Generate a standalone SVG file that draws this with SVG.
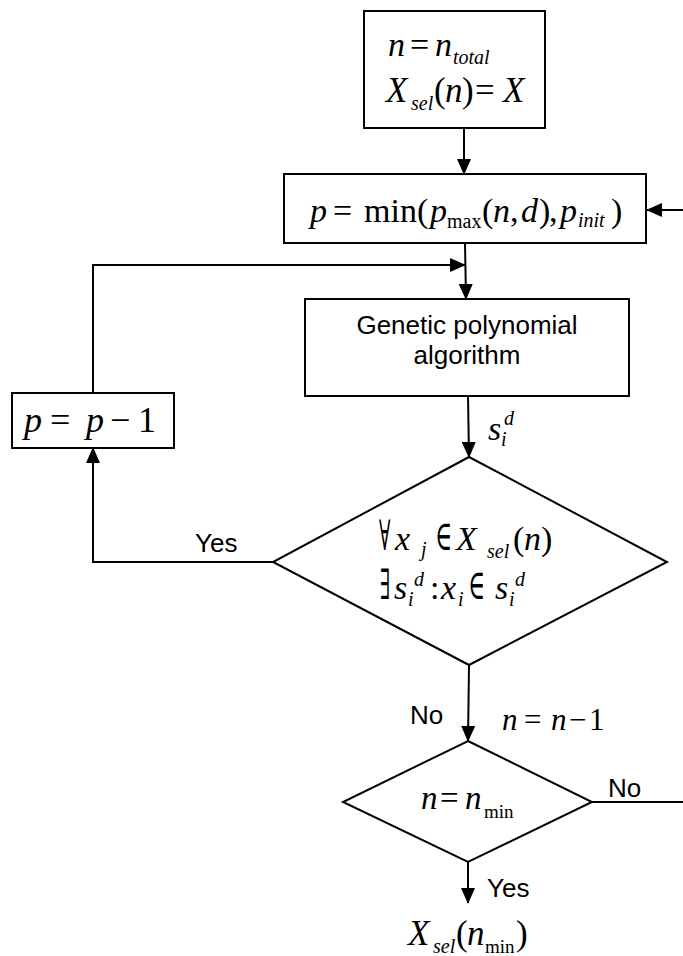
<svg xmlns="http://www.w3.org/2000/svg" width="683" height="956" viewBox="0 0 683 956">
<style>
.b{fill:#fff;stroke:#000;stroke-width:2}
.c{fill:none;stroke:#000;stroke-width:2}
.m{font-family:"Liberation Serif","Times New Roman",serif;font-size:34px;fill:#000}
.y{font-family:"DejaVu Serif","Liberation Serif",serif;font-size:42px;fill:#000}
.i{font-style:italic}
.s{font-size:20px}
.a{font-family:"Liberation Sans",Arial,sans-serif;font-size:26px;fill:#000}
</style>
<defs>
<marker id="ah" markerWidth="16" markerHeight="14" refX="15" refY="7" orient="auto" markerUnits="userSpaceOnUse">
<path d="M0,0 L16,7 L0,14 z" fill="#000"/>
</marker>
</defs>
<rect width="683" height="956" fill="#fff"/>

<g id="connectors">
<path class="c" d="M464,128 L464,174" marker-end="url(#ah)"/>
<path class="c" d="M465,243 L466,299" marker-end="url(#ah)"/>
<path class="c" d="M93,393 L93,265 L465,265" marker-end="url(#ah)"/>
<path class="c" d="M468,396 L469,457" marker-end="url(#ah)"/>
<path class="c" d="M273,562 L93,562 L93,448" marker-end="url(#ah)"/>
<path class="c" d="M469,665 L468,741" marker-end="url(#ah)"/>
<path class="c" d="M592,802 L686,802 L686,210 L647,210" marker-end="url(#ah)"/>
<path class="c" d="M468,862 L468,903" marker-end="url(#ah)"/>
</g>

<g id="start">
<rect class="b" x="364" y="11" width="181" height="117"/>
<text class="m" y="56"><tspan class="i" x="388">n</tspan><tspan x="410">=</tspan><tspan class="i" x="435">n</tspan><tspan class="i s" x="453" y="64">total</tspan></text>
<text class="m" y="102" style="font-size:35px"><tspan class="i" x="386">X</tspan><tspan class="i s" x="411" y="110">sel</tspan><tspan x="434" y="102">(</tspan><tspan class="i" x="445">n</tspan><tspan x="462">)</tspan><tspan x="475">=</tspan><tspan class="i" x="503">X</tspan></text>
</g>

<g id="init">
<rect class="b" x="284" y="174" width="362" height="69"/>
<text class="m" y="222"><tspan class="i" x="310">p</tspan><tspan x="333">=</tspan><tspan x="364">min(</tspan><tspan class="i" x="430">p</tspan><tspan class="s" x="447" y="228">max</tspan><tspan x="482" y="222">(</tspan><tspan class="i" x="493">n</tspan><tspan x="510">,</tspan><tspan class="i" x="521">d</tspan><tspan x="539">)</tspan><tspan x="549">,</tspan><tspan class="i" x="560">p</tspan><tspan class="i s" x="578" y="227">init</tspan><tspan x="611" y="222">)</tspan></text>
</g>

<g id="genetic">
<rect class="b" x="305" y="299" width="324" height="97"/>
<text class="a" text-anchor="middle"><tspan x="467" y="334">Genetic polynomial</tspan><tspan x="467" y="364">algorithm</tspan></text>
</g>

<g id="decrement">
<rect class="b" x="12" y="393" width="162" height="55"/>
<text class="m" y="432" style="font-size:36px"><tspan class="i" x="24">p</tspan><tspan x="50">=</tspan><tspan class="i" x="86">p</tspan><tspan x="110">−</tspan><tspan x="138">1</tspan></text>
</g>

<g id="s-label">
<text class="m"><tspan class="i" x="488" y="440">s</tspan><tspan class="i s" x="501" y="446">i</tspan><tspan class="i s" x="504" y="425">d</tspan></text>
</g>

<g id="check">
<polygon class="b" points="469,457 667,562 469,665 273,562"/>
<text class="y" transform="translate(379,550) scale(0.45,1)">∀</text>
<text class="y" transform="translate(435,550) scale(0.55,1)">∈</text>
<text class="m" y="550"><tspan class="i" x="395">x</tspan><tspan class="i s" x="421" y="556">j</tspan><tspan class="i" x="456" y="550">X</tspan><tspan class="i s" x="487" y="558">sel</tspan><tspan x="513" y="550">(</tspan><tspan class="i" x="524">n</tspan><tspan x="541">)</tspan></text>
<text class="y" transform="translate(380,599) scale(0.45,1)">∃</text>
<text class="y" transform="translate(468,599) scale(0.55,1)">∈</text>
<text class="m" y="599"><tspan class="i" x="394">s</tspan><tspan class="i s" x="408" y="606">i</tspan><tspan class="i s" x="414" y="586">d</tspan><tspan x="430" y="599">:</tspan><tspan class="i" x="441">x</tspan><tspan class="i s" x="458" y="606">i</tspan><tspan class="i" x="495" y="599">s</tspan><tspan class="i s" x="509" y="606">i</tspan><tspan class="i s" x="515" y="586">d</tspan></text>
<text class="a" x="195" y="552">Yes</text>
<text class="a" x="410" y="724">No</text>
</g>

<g id="n-update">
<text class="m" style="font-size:31px" y="730"><tspan class="i" x="502">n</tspan><tspan x="524">=</tspan><tspan class="i" x="551">n</tspan><tspan x="569">−</tspan><tspan x="589">1</tspan></text>
</g>

<g id="min-check">
<polygon class="b" points="468,741 592,802 468,862 343,802"/>
<text class="m" style="font-size:33px" y="809"><tspan class="i" x="421">n</tspan><tspan x="440">=</tspan><tspan class="i" x="465">n</tspan><tspan class="s" style="font-size:19px" x="484" y="818">min</tspan></text>
<text class="a" x="608" y="797">No</text>
<text class="a" x="487" y="897">Yes</text>
</g>

<g id="result">
<text class="m" y="945" style="font-size:35px"><tspan class="i" x="408">X</tspan><tspan class="i s" x="433" y="953">sel</tspan><tspan x="456" y="945">(</tspan><tspan class="i" x="467">n</tspan><tspan class="s" style="font-size:19px" x="485" y="953">min</tspan><tspan x="516" y="945">)</tspan></text>
</g>
</svg>
